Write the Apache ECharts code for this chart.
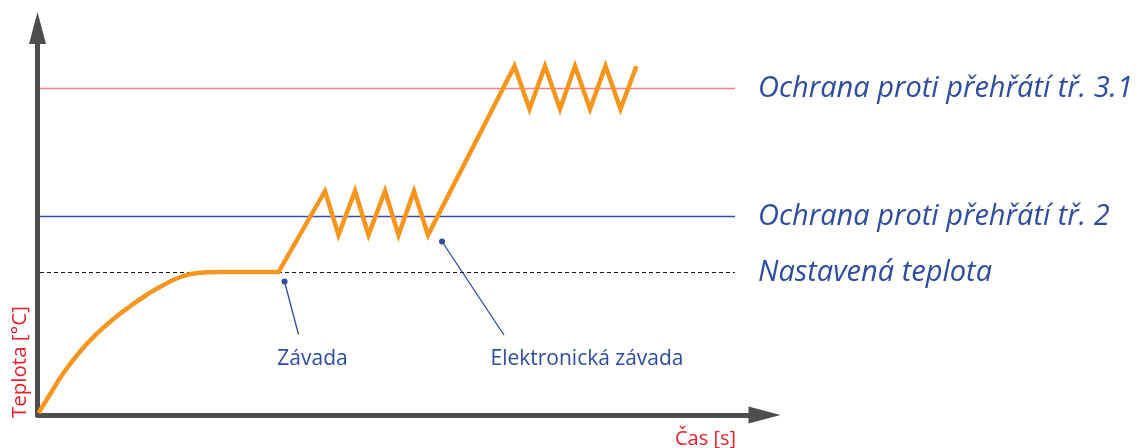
<!DOCTYPE html>
<html>
<head>
<meta charset="utf-8">
<script src="https://cdn.jsdelivr.net/npm/echarts@6/dist/echarts.min.js"></script>
<style>
  html, body { margin: 0; padding: 0; background: #fff; }
  #chart { width: 1142px; height: 448px; }
</style>
</head>
<body>
<div id="chart"></div>
<script>
// schematic units: x = time, y = temperature (no tick labels in the original)
const heatingCurve = [[1, 2], [14, 23], [26, 42], [43, 64], [60, 82], [76, 96], [93, 109], [109, 120], [126, 130], [143, 138], [160, 142], [180, 143]];
const faultCurve = [
  [180, 143], [241, 143],
  [287.5, 224], [301, 180], [317.5, 224], [331, 180], [347.5, 224], [361, 180], [376.5, 224], [390.5, 180],
  [477, 349], [492, 306], [507.5, 349], [522.5, 306], [537.5, 349], [552.5, 306], [568, 349], [583, 306], [599, 349]
];
const limitNames = ['Ochrana proti přehřátí tř. 3.1', 'Ochrana proti přehřátí tř. 2', 'Nastavená teplota'];
const limitValues = [326.5, 198.5, 142.5];
const limitFrom = 2.5;
const limitTo = 697.5;
const noteNames = ['Závada', 'Elektronická závada'];
const notePoints = [
  [[247, 133.5], [261, 80.5]],
  [[404.5, 173.5], [466.5, 80]]
];
const xName = 'Čas [s]';
const yName = 'Teplota [°C]';

const blue = '#2e4c9d';
const red = '#e4202a';
const orange = '#f7961f';
const limitColors = ['#f08383', '#3050a3', '#111'];
const limitTypes = ['solid', 'solid', [4, 3]];
const limitWidths = [1.6, 1.4, 1];

let myChart = echarts.init(document.getElementById('chart'));

let series = [];
series.push({
  type: 'line', smooth: true, showSymbol: false, data: heatingCurve,
  lineStyle: { color: orange, width: 4.5 }, z: 5
});
series.push({
  type: 'line', showSymbol: false, data: faultCurve,
  lineStyle: { color: orange, width: 4.5, join: 'miter' }, z: 5
});
limitNames.forEach((name, i) => {
  series.push({
    name: name, type: 'line', showSymbol: true, symbol: 'circle', symbolSize: 0, z: 3,
    lineStyle: { color: limitColors[i], width: limitWidths[i], type: limitTypes[i] },
    data: [
      [limitFrom, limitValues[i]],
      {
        value: [limitTo, limitValues[i]],
        label: {
          show: true, position: 'right', distance: 23, formatter: '{a}',
          color: blue, fontSize: 29, fontStyle: 'italic', fontFamily: 'Open Sans'
        }
      }
    ]
  });
});
noteNames.forEach((name, i) => {
  let p = notePoints[i];
  series.push({
    name: name, type: 'line', showSymbol: true, z: 4,
    lineStyle: { color: blue, width: 1.3 },
    itemStyle: { color: blue },
    data: [
      { value: p[0], symbol: 'circle', symbolSize: 6 },
      {
        value: p[1], symbol: 'circle', symbolSize: 0,
        label: {
          show: true, position: 'bottom', distance: 14, formatter: '{a}',
          offset: [i === 0 ? 14 : 83, 0],
          color: blue, fontSize: 21, fontFamily: 'Open Sans'
        }
      }
    ]
  });
});

let axisLine = {
  show: true,
  symbol: ['none', 'triangle'],
  symbolSize: [17, 32],
  lineStyle: { color: '#4d4d4d', width: 5 }
};

let option = {
  animation: false,
  grid: { left: 37.5, top: 28, right: 377.5, bottom: 33 },
  xAxis: {
    type: 'value', min: 0, max: 727,
    axisLine: axisLine, axisTick: { show: false }, axisLabel: { show: false }, splitLine: { show: false }
  },
  yAxis: {
    type: 'value', min: 0, max: 387,
    axisLine: axisLine, axisTick: { show: false }, axisLabel: { show: false }, splitLine: { show: false }
  },
  graphic: [
    {
      type: 'text', x: 20, y: 418, rotation: Math.PI / 2,
      style: { text: yName, fill: red, fontSize: 20.5, fontFamily: 'Open Sans', align: 'left', verticalAlign: 'middle' }
    },
    {
      type: 'text', x: 675, y: 439,
      style: { text: xName, fill: red, fontSize: 20, fontFamily: 'Open Sans', align: 'left', verticalAlign: 'middle' }
    }
  ],
  series: series
};
myChart.setOption(option);
</script>
</body>
</html>
